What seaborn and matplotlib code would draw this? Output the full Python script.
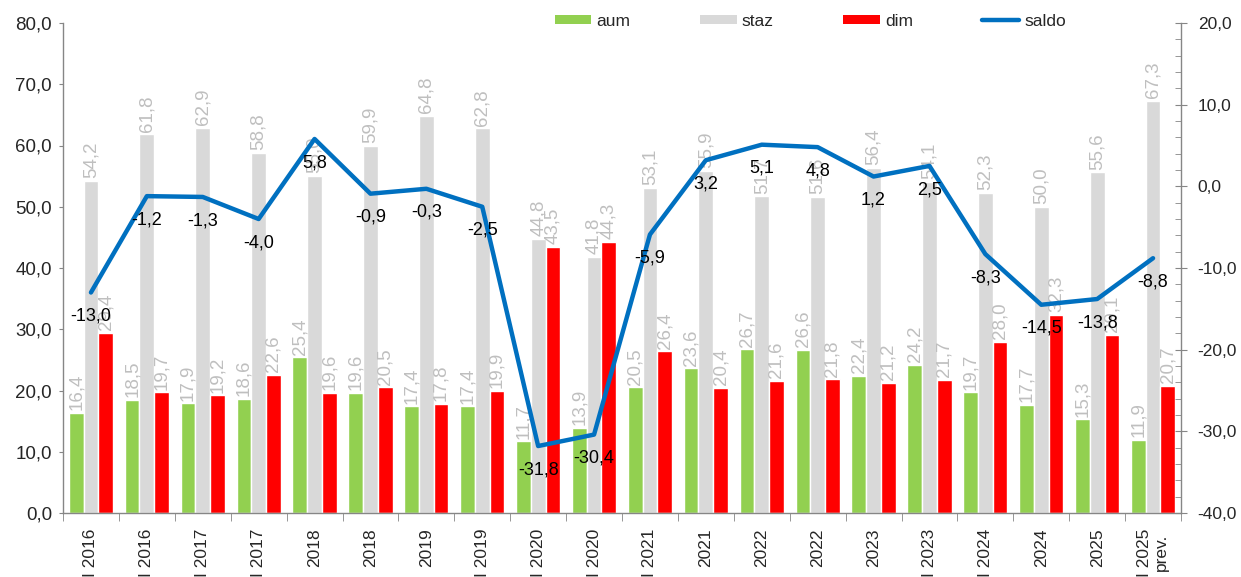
import numpy as np
import pandas as pd
import seaborn as sns
import matplotlib
matplotlib.use('Agg')
import matplotlib.pyplot as plt
from matplotlib.patches import Patch
from matplotlib.lines import Line2D
from matplotlib.ticker import MultipleLocator, FuncFormatter

# periodi (chiavi interne) ed etichette visibili sull'asse x
periods = ["I 2016", "II 2016", "I 2017", "II 2017", "I 2018", "II 2018",
           "I 2019", "II 2019", "I 2020", "II 2020", "I 2021", "II 2021",
           "I 2022", "II 2022", "I 2023", "II 2023", "I 2024", "II 2024",
           "I 2025", "II 2025"]
tick_labels = ["I 2016", "I 2016", "I 2017", "I 2017", "2018", "2018",
               "2019", "I 2019", "I 2020", "I 2020", "I 2021", "2021",
               "2022", "2022", "2023", "I 2023", "I 2024", "2024",
               "2025", "I 2025\nprev."]

aum = [16.4, 18.5, 17.9, 18.6, 25.4, 19.6, 17.4, 17.4, 11.7, 13.9,
       20.5, 23.6, 26.7, 26.6, 22.4, 24.2, 19.7, 17.7, 15.3, 11.9]
staz = [54.2, 61.8, 62.9, 58.8, 55.0, 59.9, 64.8, 62.8, 44.8, 41.8,
        53.1, 55.9, 51.7, 51.6, 56.4, 54.1, 52.3, 50.0, 55.6, 67.3]
dim = [29.4, 19.7, 19.2, 22.6, 19.6, 20.5, 17.8, 19.9, 43.5, 44.3,
       26.4, 20.4, 21.6, 21.8, 21.2, 21.7, 28.0, 32.3, 29.1, 20.7]
saldo = [-13.0, -1.2, -1.3, -4.0, 5.8, -0.9, -0.3, -2.5, -31.8, -30.4,
         -5.9, 3.2, 5.1, 4.8, 1.2, 2.5, -8.3, -14.5, -13.8, -8.8]

series = ["aum", "staz", "dim"]
colors = ["#92D050", "#D9D9D9", "#FF0000"]
blue = "#0070C0"
spine_col = "#868686"

sns.set_style("ticks")
plt.rcParams['font.family'] = ['Liberation Sans', 'DejaVu Sans']


def fmt(v):
    return f"{v:.1f}".replace(".", ",")


n = len(periods)
df = pd.DataFrame({
    "periodo": periods * 3,
    "serie": [s for s in series for _ in range(n)],
    "valore": aum + staz + dim,
})

fig = plt.figure(figsize=(12.41, 5.77), dpi=100)
ax = fig.add_axes([63 / 1241, 1 - 513 / 577, (1181 - 63) / 1241, (513 - 23) / 577])

sns.barplot(data=df, x="periodo", y="valore", hue="serie", order=periods,
            hue_order=series, palette=colors, saturation=1, width=0.79,
            gap=0, ax=ax, legend=False)

for cont in ax.containers:
    vals = [b.get_height() for b in cont]
    ax.bar_label(cont, labels=[fmt(v) for v in vals], rotation=90,
                 padding=2, color="#BFBFBF", fontsize=13.5)

ax.set_ylim(0, 80)
ax.set_xlim(-0.5, n - 0.5)
ax.yaxis.set_major_locator(MultipleLocator(10))
ax.yaxis.set_major_formatter(FuncFormatter(lambda v, p: fmt(v)))
ax.set_xticks(range(n))
ax.set_xticklabels(tick_labels, rotation=90, ha="center", va="top",
                   multialignment="center")
ax.set_xticks(np.arange(n + 1) - 0.5, minor=True)
ax.tick_params(axis="x", which="major", length=0, pad=11, labelsize=12.5)
ax.tick_params(axis="x", which="minor", length=6, color=spine_col, direction="out")
ax.tick_params(axis="y", which="major", length=3, color=spine_col, pad=5,
               labelsize=13.5)
ax.set_xlabel("")
ax.set_ylabel("")

ax2 = ax.twinx()
sns.lineplot(x=np.arange(n), y=saldo, ax=ax2, color=blue, linewidth=3.2)
for i, v in enumerate(saldo):
    ax2.annotate(fmt(v), (i, v), xytext=(0, -17), textcoords="offset points",
                 ha="center", va="center", fontsize=13, color="black")
ax2.set_ylim(-40, 20)
ax2.yaxis.set_major_locator(MultipleLocator(10))
ax2.yaxis.set_minor_locator(MultipleLocator(2))
ax2.yaxis.set_major_formatter(FuncFormatter(lambda v, p: fmt(v)))
ax2.tick_params(axis="y", which="major", direction="inout", length=8,
                color=spine_col, pad=8, labelsize=12.5)
ax2.tick_params(axis="y", which="minor", direction="in", length=4,
                color=spine_col)
ax2.set_xlim(-0.5, n - 0.5)
ax2.set_xlabel("")
ax2.set_ylabel("")

for a in (ax, ax2):
    a.spines["top"].set_visible(False)
    for s in a.spines.values():
        s.set_color(spine_col)
        s.set_linewidth(1)
ax.spines["right"].set_visible(False)
ax2.spines["left"].set_visible(False)
ax2.spines["bottom"].set_visible(False)

handles = [Patch(facecolor=c, edgecolor="none") for c in colors]
handles.append(Line2D([], [], color=blue, linewidth=3.2))
fig.legend(handles, series + ["saldo"], loc="center left",
           bbox_to_anchor=(555 / 1241, 1 - 21 / 577), ncol=4, frameon=False,
           handlelength=2.1, handleheight=0.42, handletextpad=0.3,
           columnspacing=4.0, borderpad=0, borderaxespad=0, fontsize=12.5)

fig.savefig("out.png", dpi=100)
